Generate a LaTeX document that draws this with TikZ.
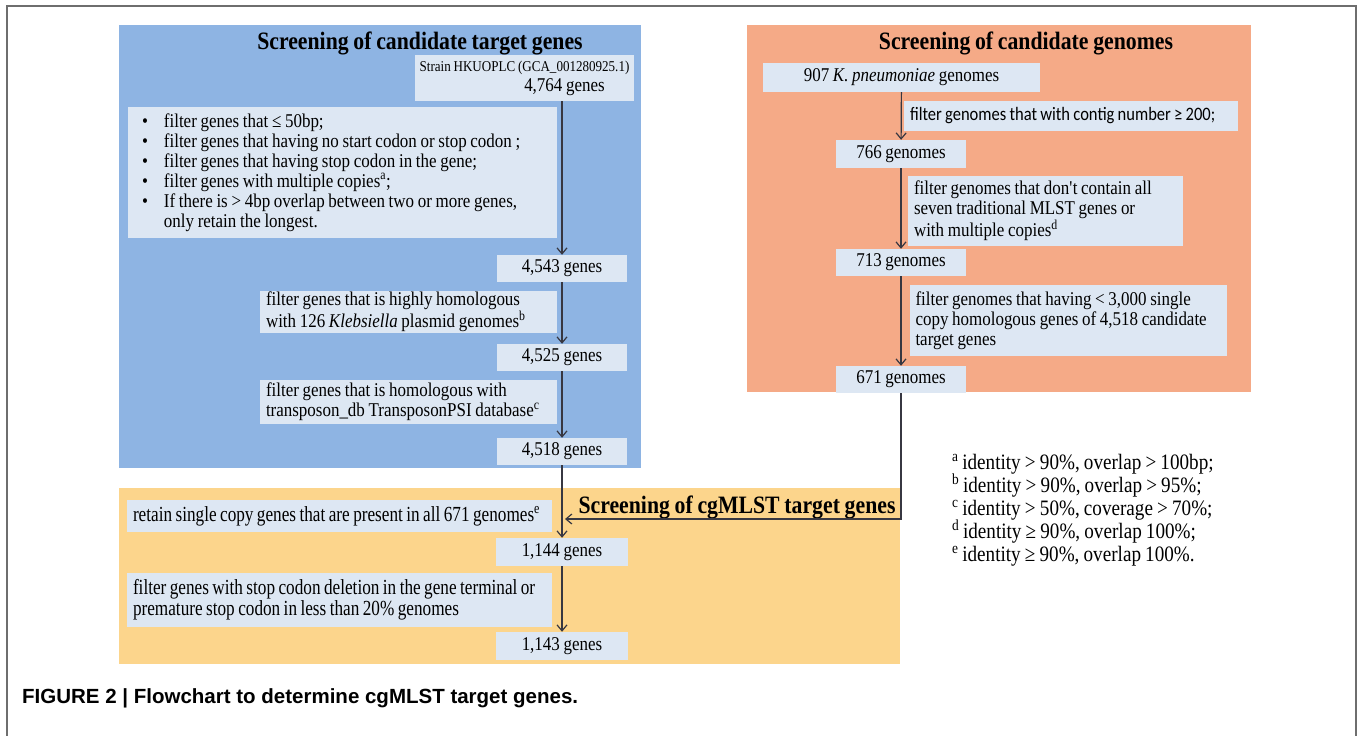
\documentclass[tikz,border=0pt]{standalone}
\usepackage{fontspec}
\setmainfont{Liberation Serif}[FakeStretch=0.87, WordSpace=0.87]
\newfontfamily\calibfont{Carlito}[FakeStretch=0.87, WordSpace=0.87]
\newfontfamily\narrowfont{Liberation Serif}[FakeStretch=0.8, WordSpace=0.8]
\newfontfamily\capfont{Liberation Sans}
\usetikzlibrary{arrows.meta}
\definecolor{bluepanel}{RGB}{142,180,227}
\definecolor{orangepanel}{RGB}{245,170,135}
\definecolor{yellowpanel}{RGB}{252,213,140}
\definecolor{boxfill}{RGB}{221,231,243}
\definecolor{linec}{RGB}{55,55,65}
\definecolor{framec}{RGB}{110,110,110}
\newcommand{\bodyfont}{\fontsize{19.5}{20}\selectfont}
\newcommand{\smallbody}{\fontsize{15}{17}\selectfont}
\newcommand{\yelfont}{\narrowfont\fontsize{21.5}{21}\selectfont}
\newcommand{\headfont}{\fontsize{25}{28}\selectfont\bfseries}
\newcommand{\notefont}{\fontsize{22}{23}\selectfont}
\newcommand{\capsize}{\capfont\fontsize{20.5}{24}\selectfont\bfseries}
\tikzstyle{stepbox}=[fill=boxfill, inner xsep=6pt, inner ysep=0pt, align=left, font=\bodyfont,
	execute at begin node={\spaceskip=\fontdimen2\font\relax}]
\tikzstyle{numbox}=[fill=boxfill, inner sep=0pt, align=center, font=\bodyfont]
\tikzstyle{head}=[inner sep=0pt, font=\headfont]
\tikzstyle{arrow}=[draw=linec, line width=1.2pt, >={Straight Barb[length=6pt,width=10pt]}]

\begin{document}
\begin{tikzpicture}[x=1pt, y=-1pt]
	\useasboundingbox (0,0) rectangle (1360,736);
	\draw[framec, line width=2pt] (7,736) -- (7,6) -- (1356,6) -- (1356,736);
	\fill[bluepanel] (119,25) rectangle (641,468);
	\fill[orangepanel] (747,25) rectangle (1251,392);
	\fill[yellowpanel] (119,488) rectangle (900,664);
	\begin{scope}
		% candidate target genes
		\node (b0) at (420,43)[head] {Screening of candidate target genes};
		\node (b1) at (524.5,78)[numbox, minimum width=219, minimum height=46] {{\smallbody Strain HKUOPLC (GCA\_001280925.1)}\\\hspace*{80pt}4,764 genes};
		\node (b2) at (342.5,172.5)[stepbox, inner xsep=14pt, text width=401, minimum height=131] {%
			\textbullet\hspace{16pt}filter genes that ≤ 50bp;\\
			\textbullet\hspace{16pt}filter genes that having no start codon or stop codon ;\\
			\textbullet\hspace{16pt}filter genes that having stop codon in the gene;\\
			\textbullet\hspace{16pt}filter genes with multiple copies\textsuperscript{a};\\
			\textbullet\hspace{16pt}If there is > 4bp overlap between two or more genes,\\
			\hphantom{\textbullet}\hspace{16pt}only retain the longest.};
		\node (b3) at (562,268.5)[numbox, minimum width=130, minimum height=27] {4,543 genes};
		\node (b4) at (408.5,312)[stepbox, text width=285, minimum height=42] {filter genes that is highly homologous\\with 126 \textit{Klebsiella} plasmid genomes\textsuperscript{b}};
		\node (b5) at (562,357.5)[numbox, minimum width=130, minimum height=27] {4,525 genes};
		\node (b6) at (408.5,402)[stepbox, text width=285, minimum height=44] {filter genes that is homologous with\\transposon\_db TransposonPSI database\textsuperscript{c}};
		\node (b7) at (562,451.5)[numbox, minimum width=130, minimum height=27] {4,518 genes};
		% candidate genomes
		\node (o0) at (1026,43)[head] {Screening of candidate genomes};
		\node (o1) at (901.5,77.5)[numbox, minimum width=277, minimum height=29] {907 \textit{K. pneumoniae} genomes};
		\node (o2) at (1071,116)[stepbox, font=\calibfont\fontsize{19}{21}\selectfont, text width=322, minimum height=30] {filter genomes that with contig number ≥ 200;};
		\node (o3) at (901,154)[numbox, minimum width=130, minimum height=28] {766 genomes};
		\node (o4) at (1045.5,211)[stepbox, text width=263, minimum height=70] {filter genomes that don\textquotesingle t contain all\\seven traditional MLST genes or\\with multiple copies\textsuperscript{d}};
		\node (o5) at (901,262.5)[numbox, minimum width=130, minimum height=27] {713 genomes};
		\node (o6) at (1068,320.5)[stepbox, text width=305, minimum height=71] {filter genomes that having < 3,000 single\\copy homologous genes of 4,518 candidate\\target genes};
		\node (o7) at (901,379.5)[numbox, minimum width=130, minimum height=27] {671 genomes};
		% cgMLST target genes
		\node (y0) at (737,507)[head] {Screening of cgMLST target genes};
		\node (y1) at (339.5,516)[stepbox, font=\yelfont, text width=413, minimum height=32] {retain single copy genes that are present in all 671 genomes\textsuperscript{e}};
		\node (y2) at (562,552)[numbox, minimum width=132, minimum height=28] {1,144 genes};
		\node (y3) at (339.5,600)[stepbox, font=\yelfont, text width=413, minimum height=54] {filter genes with stop codon deletion in the gene terminal or\\premature stop codon in less than 20\% genomes};
		\node (y4) at (562,646)[numbox, minimum width=132, minimum height=28] {1,143 genes};
		\coordinate (j) at (565,519);
		% notes and caption
		\node (fn) at (952,510)[anchor=west, inner sep=0pt, align=left, font=\notefont] {%
			\textsuperscript{a}\,identity > 90\%, overlap > 100bp;\\
			\textsuperscript{b}\,identity > 90\%, overlap > 95\%;\\
			\textsuperscript{c}\,identity > 50\%, coverage > 70\%;\\
			\textsuperscript{d}\,identity ≥ 90\%, overlap 100\%;\\
			\textsuperscript{e}\,identity ≥ 90\%, overlap 100\%.};
		\node (cap) at (22,698)[anchor=west, inner sep=0pt, font=\capsize] {FIGURE 2 | Flowchart to determine cgMLST target genes.};
	\end{scope}
	\begin{scope}[arrow]
		\path [->] (b1.south -| b3) edge (b3);
		\path [->] (b3) edge (b5);
		\path [->] (b5) edge (b7);
		\path [->] (b7) edge (y2);
		\path [->] (y2) edge (y4);
		\path [->] (o1) edge (o3);
		\path [->] (o3) edge (o5);
		\path [->] (o5) edge (o7);
		\draw [->] (o7.south) |- (j);
	\end{scope}
\end{tikzpicture}
\end{document}
